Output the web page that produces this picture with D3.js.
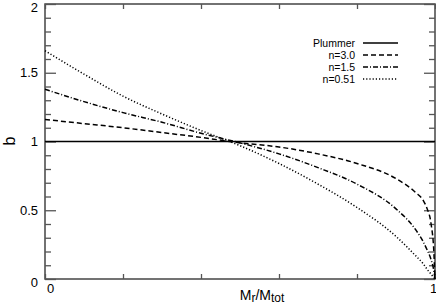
<!DOCTYPE html>
<html>
<head>
<meta charset="utf-8">
<script src="https://cdn.jsdelivr.net/npm/d3@7"></script>
<style>
body { margin: 0; background: #fff; }
text { font-family: "Liberation Sans", Arial, sans-serif; fill: #000; }
.axis .domain { display: none; }
.axis line { stroke: #555; stroke-width: 1.3; }
.curve { fill: none; stroke: #000; stroke-width: 1.5; }
</style>
</head>
<body>
<svg width="436" height="307"></svg>
<script>
const massFrac = [0, 0.1, 0.2, 0.3, 0.4, 0.5, 0.6, 0.7, 0.8, 0.9, 0.95, 0.97, 0.98, 0.99, 0.997, 1]
const plummer = [1, 1, 1, 1, 1, 1, 1, 1, 1, 1, 1, 1, 1, 1, 1, 1]
const n30 = [1.16, 1.13, 1.10, 1.065, 1.03, 0.99, 0.96, 0.91, 0.84, 0.73, 0.63, 0.57, 0.51, 0.40, 0.2, 0]
const n15 = [1.38, 1.29, 1.21, 1.14, 1.06, 0.99, 0.91, 0.81, 0.69, 0.51, 0.36, 0.27, 0.21, 0.14, 0.06, 0]
const n051 = [1.66, 1.49, 1.33, 1.20, 1.08, 0.97, 0.84, 0.69, 0.52, 0.31, 0.17, 0.11, 0.07, 0.035, 0.01, 0]
const seriesNames = ["Plummer", "n=3.0", "n=1.5", "n=0.51"]
const yLabelTicks = [0, 0.5, 1, 1.5, 2]
const xTicks = [0, 0.2, 0.4, 0.6, 0.8, 1]

const series = [plummer, n30, n15, n051]
const dashes = [null, "5,3", "5,2,1,2", "1.2,2"]

const svg = d3.select("svg"),
plotLeft = 45, plotRight = 435, plotTop = 4, plotBottom = 279

const x = d3.scaleLinear()
.domain([0, 1])
.range([plotLeft, plotRight])

const y = d3.scaleLinear()
.domain([0, 2])
.range([plotBottom, plotTop])

const minorY = d3.range(1, 20).map(i => i / 10).filter(v => !yLabelTicks.includes(+v.toFixed(1)))

svg.append("rect")
.attr("x", plotLeft)
.attr("y", plotTop)
.attr("width", plotRight - plotLeft)
.attr("height", plotBottom - plotTop)
.attr("fill", "none")
.attr("stroke", "#444")
.attr("stroke-width", 1.5)

svg.append("g")
.attr("class", "axis")
.attr("transform", `translate(0, ${plotBottom})`)
.call(d3.axisBottom(x).tickValues(xTicks).tickSizeInner(-5).tickSizeOuter(0).tickPadding(5)
  .tickFormat(d => d === 0 || d === 1 ? d : ""))
.call(g => g.selectAll("text").attr("font-size", 13).attr("dx", d => d === 0 ? 5 : -2))

svg.append("g")
.attr("class", "axis")
.attr("transform", `translate(0, ${plotTop})`)
.call(d3.axisTop(x).tickValues(xTicks).tickSizeInner(-5).tickSizeOuter(0).tickFormat(""))

svg.append("g")
.attr("class", "axis")
.attr("transform", `translate(${plotLeft}, 0)`)
.call(d3.axisLeft(y).tickValues(yLabelTicks).tickSizeInner(-11).tickSizeOuter(0).tickPadding(7)
  .tickFormat(d => d))
.call(g => g.selectAll("text").attr("font-size", 13)
  .attr("dy", d => d === 0 ? "0.55em" : d === 2 ? "0.6em" : "0.32em"))

svg.append("g")
.attr("class", "axis")
.attr("transform", `translate(${plotLeft}, 0)`)
.call(d3.axisLeft(y).tickValues(minorY).tickSizeInner(-6).tickSizeOuter(0).tickFormat(""))

svg.append("g")
.attr("class", "axis")
.attr("transform", `translate(${plotRight}, 0)`)
.call(d3.axisRight(y).tickValues(yLabelTicks).tickSizeInner(-11).tickSizeOuter(0).tickFormat(""))

svg.append("g")
.attr("class", "axis")
.attr("transform", `translate(${plotRight}, 0)`)
.call(d3.axisRight(y).tickValues(minorY).tickSizeInner(-6).tickSizeOuter(0).tickFormat(""))

const line = d3.line()
.x((d, i) => x(massFrac[i]))
.y(d => y(d))
.curve(d3.curveMonotoneX)

svg.selectAll(".curve")
.data(series)
.enter()
.append("path")
.attr("class", "curve")
.attr("stroke-dasharray", (d, i) => dashes[i])
.attr("d", line)

const legend = svg.append("g")
.attr("transform", "translate(0, 43)")

seriesNames.forEach((name, i) => {
  const row = legend.append("g").attr("transform", `translate(0, ${i * 12})`)
  row.append("text")
  .attr("x", 355)
  .attr("dy", "0.36em")
  .attr("text-anchor", "end")
  .attr("font-size", 10.5)
  .text(name)
  row.append("line")
  .attr("x1", 363)
  .attr("x2", 398)
  .attr("stroke", "#000")
  .attr("stroke-width", 1.5)
  .attr("stroke-dasharray", dashes[i])
})

svg.append("text")
.attr("transform", "translate(15, 141) rotate(-90)")
.attr("text-anchor", "middle")
.attr("font-size", 16)
.text("b")

const xTitle = svg.append("text")
.attr("x", 262)
.attr("y", 300)
.attr("text-anchor", "middle")
.attr("font-size", 14)

xTitle.append("tspan").text("M")
xTitle.append("tspan").attr("font-size", 12).attr("dy", 2).text("r")
xTitle.append("tspan").attr("dy", -2).text("/M")
xTitle.append("tspan").attr("font-size", 12).attr("dy", 2).text("tot")
</script>
</body>
</html>
